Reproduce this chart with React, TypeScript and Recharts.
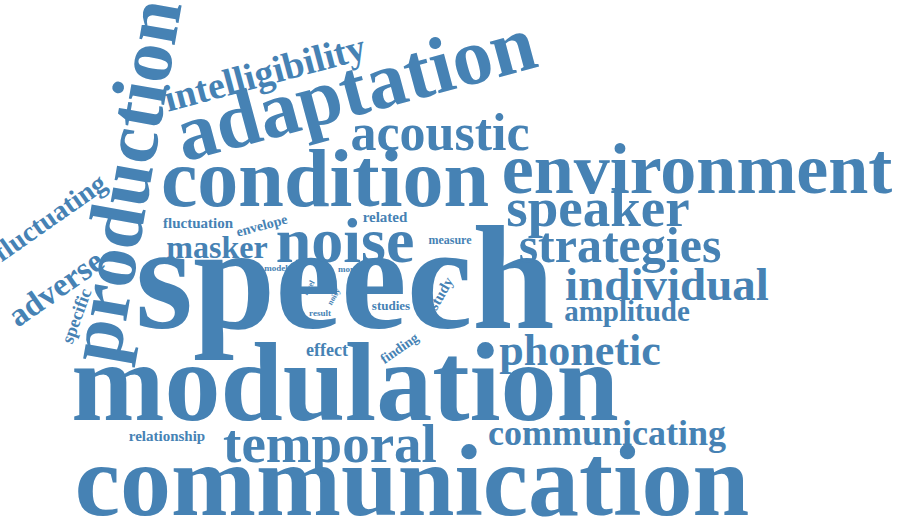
import React from 'react';
import { ScatterChart, Scatter, XAxis, YAxis } from 'recharts';

// word cloud: each word is a point at its centre / baseline
const words = ['speech', 'modulation', 'communication', 'condition', 'environment', 'adaptation',
  'production', 'noise', 'acoustic', 'intelligibility', 'speaker', 'strategies', 'individual',
  'amplitude', 'phonetic', 'temporal', 'communicating', 'masker', 'fluctuating', 'adverse',
  'specific', 'fluctuation', 'envelope', 'related', 'measure', 'study', 'model', 'more', 'level',
  'noisy', 'result', 'studies', 'effect', 'finding', 'relationship'];
const xs = [345, 345, 412, 325, 697, 362, 150, 345, 440, 268, 598, 620, 667, 627, 580, 330, 607, 217,
  55, 62, 82, 198, 263, 385, 450, 445, 276, 348, 311, 336, 320, 391, 327, 402, 167];
const ys = [328, 420, 515, 206, 193, 114, 185, 262, 150, 85, 226, 262, 300, 321, 365, 462, 445, 258,
  225, 297, 318, 228, 230, 222, 244, 296, 271, 272, 289, 298, 316, 310, 356, 352, 441];
const sizes = [148, 112, 102, 82, 72, 80, 78, 64, 52, 38, 55, 50, 47, 29, 44, 55, 36, 32,
  28, 33, 18, 15, 14, 15, 12, 15, 9, 9, 8, 8, 9, 13, 18, 14, 15];
const angles = [0, 0, 0, 0, 0, -15, -80, 0, 0, -15, 0, 0, 0, 0, 0, 0, 0, 0,
  -35, -35, -70, 0, -15, 0, 0, -60, 0, 0, -60, -60, 0, 0, 0, -35, 0];

const data = words.map((w, i) => ({ word: w, x: xs[i], y: ys[i], size: sizes[i], angle: angles[i] }));

const renderWord = (props: any) => {
  const { cx, cy, payload } = props;
  return (
    <text
      x={cx}
      y={cy}
      textAnchor="middle"
      fontFamily="'Liberation Serif', serif"
      fontWeight="bold"
      fontSize={payload.size}
      fill="#4682b4"
      transform={`rotate(${payload.angle} ${cx} ${cy})`}
    >
      {payload.word}
    </text>
  );
};

export default function App() {
  return (
    <div style={{ position: 'absolute', left: 0, top: 0, background: '#fff' }}>
      <ScatterChart width={900} height={528} margin={{ top: 0, right: 0, bottom: 0, left: 0 }}>
        <XAxis type="number" dataKey="x" domain={[0, 900]} hide />
        <YAxis type="number" dataKey="y" domain={[0, 528]} reversed hide />
        <Scatter data={data} shape={renderWord} isAnimationActive={false} />
      </ScatterChart>
    </div>
  );
}
